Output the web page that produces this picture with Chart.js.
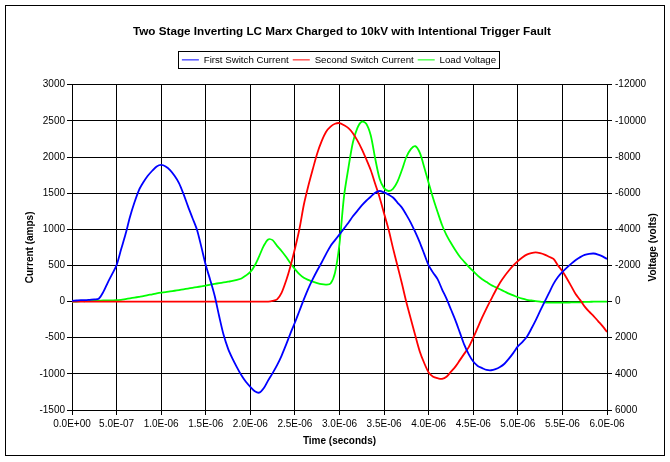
<!DOCTYPE html>
<html><head><meta charset="utf-8">
<script src="https://cdn.jsdelivr.net/npm/chart.js@4.4.1/dist/chart.umd.min.js"></script>
<style>html,body{margin:0;padding:0;background:#fff;}#wrap{width:670px;height:462px;position:relative;}</style>
</head><body><div id="wrap"><canvas id="c" width="670" height="462"></canvas></div>
<script>
const chartTitle = 'Two Stage Inverting LC Marx Charged to 10kV with Intentional Trigger Fault';
const seriesNames = ['First Switch Current', 'Second Switch Current', 'Load Voltage'];
const xAxisTitle = 'Time (seconds)';
const leftAxisTitle = 'Current (amps)';
const rightAxisTitle = 'Voltage (volts)';

const timeMicroseconds = [0,0.05,0.1,0.15,0.2,0.25,0.3,0.35,0.4,0.45,
0.5,0.55,0.6,0.65,0.7,0.75,0.8,0.85,0.9,0.95,
1.0,1.05,1.1,1.15,1.2,1.25,1.3,1.35,1.4,1.45,
1.5,1.55,1.6,1.65,1.7,1.75,1.8,1.85,1.9,1.95,
2.0,2.05,2.1,2.15,2.2,2.25,2.3,2.35,2.4,2.45,
2.5,2.55,2.6,2.65,2.7,2.75,2.8,2.85,2.9,2.95,
3.0,3.05,3.1,3.15,3.2,3.25,3.3,3.35,3.4,3.45,
3.5,3.55,3.6,3.65,3.7,3.75,3.8,3.85,3.9,3.95,
4.0,4.05,4.1,4.15,4.2,4.25,4.3,4.35,4.4,4.45,
4.5,4.55,4.6,4.65,4.7,4.75,4.8,4.85,4.9,4.95,
5.0,5.05,5.1,5.15,5.2,5.25,5.3,5.35,5.4,5.45,
5.5,5.55,5.6,5.65,5.7,5.75,5.8,5.85,5.9,5.95,6.0];

const firstSwitchCurrent = [10,15,20,20,25,30,40,130,260,380,
505,720,930,1170,1370,1540,1650,1740,1810,1870,
1890,1870,1820,1740,1640,1490,1320,1160,1000,760,
505,300,80,-200,-460,-650,-790,-910,-1020,-1110,
-1180,-1240,-1260,-1200,-1090,-990,-880,-750,-600,-440,
-290,-130,30,180,310,430,540,660,770,850,
930,1010,1090,1180,1255,1330,1395,1450,1505,1530,
1510,1480,1440,1370,1300,1200,1090,960,820,660,
500,400,310,170,40,-110,-260,-430,-600,-730,
-830,-890,-920,-945,-950,-935,-905,-860,-790,-710,
-620,-560,-490,-380,-260,-130,-5,120,245,340,
410,470,525,575,615,645,660,665,650,625,590];

const secondSwitchCurrent = [0,0,0,0,0,0,0,0,0,0,
0,0,0,0,0,0,0,0,0,0,
0,0,0,0,0,0,0,0,0,0,
0,0,0,0,0,0,0,0,0,0,
0,0,0,0,0,10,30,120,285,490,
730,1000,1340,1600,1830,2050,2220,2350,2420,2460,
2470,2440,2400,2330,2230,2110,1970,1820,1630,1440,
1220,1000,740,495,250,-10,-240,-470,-690,-850,
-980,-1040,-1060,-1068,-1040,-970,-900,-810,-720,-630,
-500,-360,-220,-90,30,150,260,350,430,500,
560,610,650,670,680,670,650,620,590,500,
420,320,210,100,20,-70,-140,-200,-270,-340,-420];

const loadVoltage = [0,0,-20,-20,-40,-40,-40,-60,-60,-60,
-80,-100,-140,-180,-220,-260,-300,-360,-400,-460,
-500,-520,-560,-600,-640,-680,-720,-760,-800,-840,
-880,-940,-980,-1020,-1060,-1100,-1140,-1200,-1280,-1440,
-1640,-2000,-2520,-3080,-3440,-3400,-3080,-2800,-2480,-2120,
-1800,-1520,-1320,-1200,-1100,-1020,-960,-940,-1000,-1600,
-3200,-5800,-7400,-8800,-9600,-9960,-9840,-9200,-7920,-6800,
-6280,-6120,-6240,-6640,-7280,-8000,-8440,-8600,-8240,-7440,
-6560,-5720,-4960,-4240,-3680,-3240,-2840,-2480,-2200,-1920,
-1680,-1440,-1240,-1080,-920,-800,-680,-560,-440,-340,
-240,-160,-100,-60,-20,0,40,60,60,60,
60,60,40,40,40,20,20,0,0,0,0];

const xTickValues = [0,5e-7,1e-6,1.5e-6,2e-6,2.5e-6,3e-6,3.5e-6,4e-6,4.5e-6,5e-6,5.5e-6,6e-6];
const xTickLabels = ['0.0E+00','5.0E-07','1.0E-06','1.5E-06','2.0E-06','2.5E-06','3.0E-06','3.5E-06','4.0E-06','4.5E-06','5.0E-06','5.5E-06','6.0E-06'];
const leftTickValues = [-1500,-1000,-500,0,500,1000,1500,2000,2500,3000];
const rightTickValues = [-12000,-10000,-8000,-6000,-4000,-2000,0,2000,4000,6000];

const FONT = '"Liberation Sans", Arial, sans-serif';
const pts = arr => arr.map((v, i) => ({x: timeMicroseconds[i] * 1e-6, y: v}));

const decor = {
  id: 'decor',
  beforeLayout(chart) {
    const lg = chart.legend;
    if (lg && !lg._extraPatched) {
      const origFit = lg.fit.bind(lg);
      lg.fit = function () { origFit(); this.height += 10; this.bottom = this.top + this.height; };
      lg._extraPatched = true;
    }
  },
  afterLayout(chart) {
    const tb = chart.titleBlock;
    if (tb) { tb.left += 7; tb.right += 7; }
    const lg = chart.legend;
    if (lg) { lg.left += 4; lg.right += 4; }
  },
  afterDraw(chart) {
    const ctx = chart.ctx;
    ctx.save();
    ctx.strokeStyle = '#000';
    ctx.lineWidth = 1;
    const lg = chart.legend;
    if (lg && lg.legendHitBoxes && lg.legendHitBoxes.length) {
      let x0 = Infinity, x1 = -Infinity, y0 = Infinity, y1 = -Infinity;
      lg.legendHitBoxes.forEach(b => {
        x0 = Math.min(x0, b.left); x1 = Math.max(x1, b.left + b.width);
        y0 = Math.min(y0, b.top); y1 = Math.max(y1, b.top + b.height);
      });
      ctx.strokeRect(Math.round(x0 - 4) + 0.5, Math.round(y0 - 4) + 0.5, Math.round(x1 - x0 + 7), Math.round(y1 - y0 + 7));
    }
    ctx.strokeRect(5.5, 5.5, 659, 450);
    const ca = chart.chartArea;
    ctx.font = 'bold 10px ' + FONT;
    ctx.fillStyle = '#000';
    ctx.textAlign = 'center';
    ctx.textBaseline = 'middle';
    ctx.translate(653, (ca.top + ca.bottom) / 2);
    ctx.rotate(-Math.PI / 2);
    ctx.fillText(rightAxisTitle, 0, 0);
    ctx.restore();
  }
};

new Chart(document.getElementById('c'), {
  type: 'line',
  data: {
    datasets: [
      {label: seriesNames[0], data: pts(firstSwitchCurrent), borderColor: '#0000ff', backgroundColor: '#0000ff', yAxisID: 'y'},
      {label: seriesNames[1], data: pts(secondSwitchCurrent), borderColor: '#ff0000', backgroundColor: '#ff0000', yAxisID: 'y'},
      {label: seriesNames[2], data: pts(loadVoltage), borderColor: '#00ff00', backgroundColor: '#00ff00', yAxisID: 'y1'}
    ]
  },
  options: {
    responsive: false,
    animation: false,
    events: [],
    elements: {point: {radius: 0}, line: {borderWidth: 1.8, tension: 0.3, fill: false}},
    layout: {padding: 0},
    plugins: {
      tooltip: {enabled: false},
      title: {display: true, text: chartTitle, color: '#000', font: {family: FONT, size: 11.7, weight: 'bold'}, padding: {top: 25, bottom: 12}},
      legend: {
        display: true,
        labels: {color: '#000', font: {family: FONT, size: 9.7}, usePointStyle: true, pointStyle: 'line', pointStyleWidth: 17, padding: 4}
      }
    },
    scales: {
      x: {
        type: 'linear', min: 0, max: 6e-6,
        afterBuildTicks: s => { s.ticks = xTickValues.map(v => ({value: v})); },
        afterFit: s => { s.height = 52; },
        ticks: {color: '#000', font: {family: FONT, size: 10}, padding: 3, maxRotation: 0, autoSkip: false,
          callback: (v, i) => xTickLabels[i]},
        grid: {color: '#000', lineWidth: 1, tickLength: 5},
        border: {color: '#000', width: 1},
        title: {display: true, text: xAxisTitle, color: '#000', font: {family: FONT, size: 10, weight: 'bold'}, padding: {top: 0, bottom: 15}}
      },
      y: {
        position: 'left', min: -1500, max: 3000,
        afterBuildTicks: s => { s.ticks = leftTickValues.map(v => ({value: v})); },
        afterFit: s => { s.width = 72; },
        ticks: {color: '#000', font: {family: FONT, size: 10}, padding: 2, callback: v => String(v)},
        grid: {color: '#000', lineWidth: 1, tickLength: 5},
        border: {color: '#000', width: 1},
        title: {display: true, text: leftAxisTitle, color: '#000', font: {family: FONT, size: 10, weight: 'bold'}, padding: {top: 24, bottom: 0}}
      },
      y1: {
        position: 'right', min: -12000, max: 6000, reverse: true,
        afterBuildTicks: s => { s.ticks = rightTickValues.map(v => ({value: v})); },
        afterFit: s => { s.width = 63; },
        ticks: {color: '#000', font: {family: FONT, size: 10}, padding: 3, callback: v => String(v)},
        grid: {drawOnChartArea: false, color: '#000', tickLength: 5},
        border: {color: '#000', width: 1},
        title: {display: false, text: rightAxisTitle}
      }
    }
  },
  plugins: [decor]
});
</script></body></html>
